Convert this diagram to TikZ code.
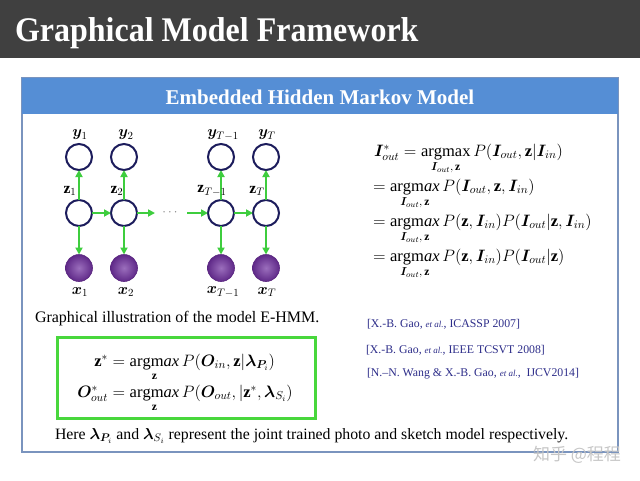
\RequirePackage{fix-cm}
\documentclass[tikz,border=0pt]{standalone}
\usepackage{amsmath}
\usepackage{bm}
\usepackage{fontspec}
\setmainfont{Liberation Serif}
\newfontfamily\cjkfont{Noto Sans CJK SC}
\usetikzlibrary{arrows.meta}

\definecolor{barGray}{RGB}{64,64,64}
\definecolor{headBlue}{RGB}{85,142,213}
\definecolor{frameBlue}{RGB}{122,148,190}
\definecolor{nodeNavy}{RGB}{28,28,92}
\definecolor{obsPurple}{RGB}{112,48,160}
\definecolor{arrowGreen}{RGB}{62,205,62}
\definecolor{boxGreen}{RGB}{72,215,60}
\definecolor{refBlue}{RGB}{46,46,138}

\newcommand{\argmx}{\mathop{\mathrm{argm}\mathit{ax}}\limits}
\newcommand{\argmxup}{\mathop{\mathrm{argmax}}\limits}

\begin{document}
\begin{tikzpicture}[x=1pt, y=-1pt, inner sep=0pt, outer sep=0pt,
  hid/.style={circle, draw=nodeNavy, line width=2pt, fill=white, minimum size=26pt},
  obs/.style={circle, draw=obsPurple!80!black, line width=0.6pt, inner color=obsPurple!70!white, outer color=obsPurple!85!black, minimum size=27pt},
  flow/.style={draw=arrowGreen, line width=2pt, -{Triangle[length=7pt, width=7pt]}},
  lab/.style={font=\fontsize{15.5}{18}\selectfont},
  eqn/.style={anchor=base west, font=\fontsize{16.5}{20}\selectfont},
  refs/.style={anchor=base west, text=refBlue, font=\fontsize{11.8}{14}\selectfont}]
\useasboundingbox (0,0) rectangle (640,480);
\path[fill=white] (0,0) rectangle (640,480);

% title bar
\path[fill=barGray] (0,0) rectangle (640,58);
\node[anchor=base west, text=white, font=\fontsize{32}{36}\selectfont\bfseries, yscale=1.08] (title) at (15,41) {Graphical Model Framework};

% panel and its header
\path[fill=white, draw=frameBlue, line width=1.5pt] (22,78) rectangle (618,452);
\path[fill=headBlue] (22,78) rectangle (618,114);
\node[text=white, font=\fontsize{21}{24}\selectfont\bfseries] (head) at (320,97) {Embedded Hidden Markov Model};

% E-HMM graph
\node[hid] (y1) at (79,157) {};
\node[hid] (y2) at (124,157) {};
\node[hid] (yT1) at (221,157) {};
\node[hid] (yT) at (266,157) {};
\node[hid] (z1) at (79,213) {};
\node[hid] (z2) at (124,213) {};
\node[hid] (zT1) at (221,213) {};
\node[hid] (zT) at (266,213) {};
\node[obs] (x1) at (79,268) {};
\node[obs] (x2) at (124,268) {};
\node[obs] (xT1) at (221,268) {};
\node[obs] (xT) at (266,268) {};
\node[minimum width=32pt, text=gray, font=\fontsize{13}{15}\selectfont] (dots) at (171,213) {$\cdots$};

\draw[flow] (z1) -- (y1);
\draw[flow] (z2) -- (y2);
\draw[flow] (zT1) -- (yT1);
\draw[flow] (zT) -- (yT);
\draw[flow] (z1) -- (x1);
\draw[flow] (z2) -- (x2);
\draw[flow] (zT1) -- (xT1);
\draw[flow] (zT) -- (xT);
\draw[flow] (z1) -- (z2);
\draw[flow] (z2) -- (dots);
\draw[flow] (dots) -- (zT1);
\draw[flow] (zT1) -- (zT);

\node[lab] (ly1) at (80,135) {$\bm{y}_1$};
\node[lab] (ly2) at (126,135) {$\bm{y}_2$};
\node[lab] (lyT1) at (223,135) {$\bm{y}_{T-1}$};
\node[lab] (lyT) at (267,135) {$\bm{y}_T$};
\node[lab] (lz1) at (70,191) {$\mathbf{z}_1$};
\node[lab] (lz2) at (117,191) {$\mathbf{z}_2$};
\node[lab] (lzT1) at (212,191) {$\mathbf{z}_{T-1}$};
\node[lab] (lzT) at (257,191) {$\mathbf{z}_T$};
\node[lab] (lx1) at (80,292) {$\bm{x}_1$};
\node[lab] (lx2) at (126,292) {$\bm{x}_2$};
\node[lab] (lxT1) at (223,292) {$\bm{x}_{T-1}$};
\node[lab] (lxT) at (267,292) {$\bm{x}_T$};

\node[anchor=base west, font=\fontsize{16}{18}\selectfont] (caption) at (35,322) {Graphical illustration of the model E-HMM.};

% derivation
\node[eqn] (eq1) at (374,156) {$\bm{I}^*_{out} = \argmxup_{\bm{I}_{out},\,\mathbf{z}} P(\bm{I}_{out},\mathbf{z}|\bm{I}_{in})$};
\node[eqn] (eq2) at (373,191) {$= \argmx_{\bm{I}_{out},\,\mathbf{z}} P(\bm{I}_{out},\mathbf{z},\bm{I}_{in})$};
\node[eqn] (eq3) at (373,226) {$= \argmx_{\bm{I}_{out},\,\mathbf{z}} P(\mathbf{z},\bm{I}_{in})P(\bm{I}_{out}|\mathbf{z},\bm{I}_{in})$};
\node[eqn] (eq4) at (373,261) {$= \argmx_{\bm{I}_{out},\,\mathbf{z}} P(\mathbf{z},\bm{I}_{in})P(\bm{I}_{out}|\mathbf{z})$};

% inference box
\path[draw=boxGreen, line width=3pt] (57,337) rectangle (315,418);
\node[eqn] (inf1) at (108,366) {$\llap{$\mathbf{z}^*$} = \argmx_{\mathbf{z}} P(\bm{O}_{in},\mathbf{z}|\bm{\lambda}_{\bm{P}_i})$};
\node[eqn] (inf2) at (108,397) {$\llap{$\bm{O}^*_{out}$} = \argmx_{\mathbf{z}} P(\bm{O}_{out},|\mathbf{z}^*,\bm{\lambda}_{S_i})$};

% references
\node[refs] (ref1) at (367,327) {[X.-B. Gao, {\small\itshape et al.}, ICASSP 2007]};
\node[refs] (ref2) at (366,353) {[X.-B. Gao, {\small\itshape et al.}, IEEE TCSVT 2008]};
\node[refs] (ref3) at (367,376) {[N.--N. Wang \& X.-B. Gao, {\small\itshape et al.},\ \ IJCV2014]};

\node[anchor=base west, font=\fontsize{15.8}{18}\selectfont] (note) at (55,439) {Here $\bm{\lambda}_{\bm{P}_i}$ and $\bm{\lambda}_{S_i}$ represent the joint trained photo and sketch model respectively.};

% watermark
\node[text=gray!45, font=\fontsize{17}{20}\selectfont\cjkfont] (mark) at (577,455) {知乎 @程程};
\end{tikzpicture}
\end{document}
